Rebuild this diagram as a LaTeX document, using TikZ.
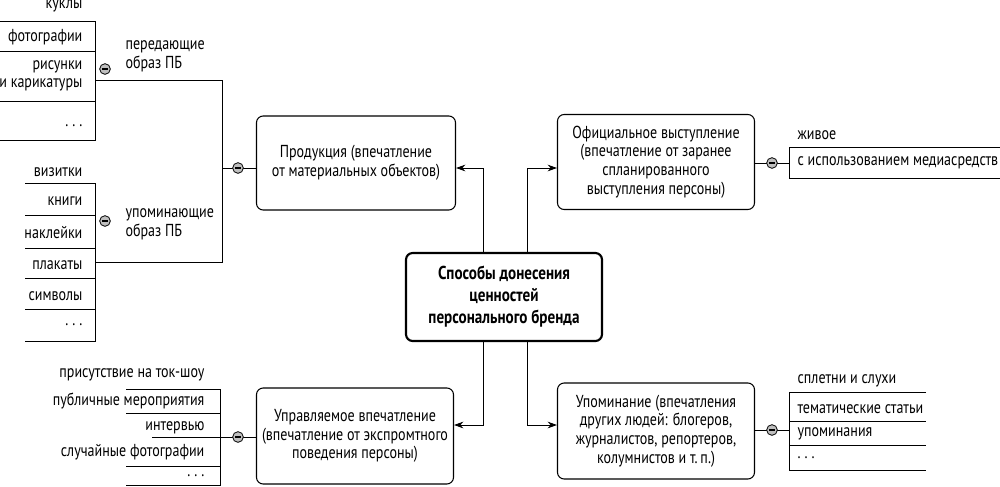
\documentclass[tikz,border=0pt]{standalone}
\usepackage{fontspec}
\setmainfont{PT Sans}[FakeStretch=0.81]
\usetikzlibrary{arrows.meta}
\newcommand{\dotsx}{.\hspace{3pt}.\hspace{3pt}.}
\begin{document}
\begin{tikzpicture}[x=0.75pt,y=-0.75pt,
  every node/.style={font=\fontsize{13}{14}\selectfont, inner sep=1pt},
  box/.style={draw, rounded corners=5pt, line width=0.8pt, align=center, inner sep=0pt},
  lbl/.style={anchor=east},
  rl/.style={anchor=west},
  ln/.style={line width=0.7pt},
  arr/.style={line width=0.7pt, -{Stealth[length=7pt,width=5pt]}},
  mk/.style={circle, draw, fill=gray!50, minimum size=8pt, inner sep=0pt, line width=0.6pt, path picture={\draw[line width=0.8pt] ([xshift=-2.2pt]path picture bounding box.center) -- ([xshift=2.2pt]path picture bounding box.center);}}]
\useasboundingbox (0,0) rectangle (1000,486);
% main boxes
\node[box, line width=1.6pt, minimum width=196*0.75pt, minimum height=88*0.75pt, font=\bfseries\fontsize{14}{16.5}\selectfont] (c) at (504,297) {Способы донесения\\ценностей\\персонального бренда};
\node[box, minimum width=199*0.75pt, minimum height=94*0.75pt] (p) at (356,163) {Продукция (впечатление\\от материальных объектов)};
\node[box, minimum width=197*0.75pt, minimum height=95*0.75pt] (o) at (656,162) {Официальное выступление\\(впечатление от заранее\\спланированного\\выступления персоны)};
\node[box, minimum width=197*0.75pt, minimum height=96*0.75pt] (u) at (355,436) {Управляемое впечатление\\(впечатление от экспромтного\\поведения персоны)};
\node[box, minimum width=197*0.75pt, minimum height=96*0.75pt] (m) at (656,431) {Упоминание (впечатления\\других людей: блогеров,\\журналистов, репортеров,\\колумнистов и т.\,п.)};
% arrows
\coordinate (c1) at (483,253); \coordinate (c2) at (527,253);
\coordinate (c3) at (483,341); \coordinate (c4) at (527,341);
\draw[arr] (c1) |- (p.east|-0,168);
\draw[arr] (c2) |- (o.west|-0,168);
\draw[arr] (c3) |- (u.east|-0,425);
\draw[arr] (c4) |- (m.west|-0,425);
% left top structure
\coordinate (pj) at (222,168);
\draw[ln] (p.west|-pj) -- (pj);
\node[mk] (pm) at (238,168) {};
\coordinate (pt) at (222,80); \coordinate (pb) at (222,262);
\draw[ln] (95,80) -- (pt) -- (pb) -- (95,262);
\node[mk] (m1) at (105,69) {};
\node[mk] (m2) at (105,221) {};
\node[anchor=west, align=left] (l1) at (124,56) {передающие\\образ ПБ};
\node[anchor=west, align=left] (l2) at (124,224) {упоминающие\\образ ПБ};
% top list
\draw[ln] (0,21) -- (95,21) -- (95,140) -- (0,140);
\draw[ln] (0,51) -- (95,51); \draw[ln] (0,101) -- (95,101);
\node[lbl] (t1) at (84,6) {куклы};
\node[lbl] (t2) at (84,37) {фотографии};
\node[lbl, align=right] (t3) at (84,76) {рисунки\\и карикатуры};
\node[lbl] (t4) at (84,126) {\dotsx};
% bottom list
\draw[ln] (25,183) -- (95,183) -- (95,341) -- (25,341);
\foreach \y in {215,248,278,309} \draw[ln] (25,\y) -- (95,\y);
\node[lbl] (b1) at (84,172) {визитки};
\node[lbl] (b2) at (84,201) {книги};
\node[lbl] (b3) at (84,233) {наклейки};
\node[lbl] (b4) at (84,265) {плакаты};
\node[lbl] (b5) at (84,296) {символы};
\node[lbl] (b6) at (84,325) {\dotsx};
% bottom-left list
\draw[ln] (126,389) -- (220,389) -- (220,486);
\draw[ln] (126,413) -- (220,413);
\draw[ln] (126,466) -- (220,466);
\draw[ln] (126,485) -- (220,485);
\draw[ln] (152,437) -- (u.west|-0,437);
\node[mk] (um) at (238,437) {};
\node[lbl] (d1) at (206,375) {присутствие на ток-шоу};
\node[lbl] (d2) at (206,401) {публичные мероприятия};
\node[lbl] (d3) at (206,428) {интервью};
\node[lbl] (d4) at (206,452) {случайные фотографии};
\node[lbl] (d5) at (206,476) {\dotsx};
% right top
\draw[ln] (o.east|-0,163) -- (789,163);
\node[mk] (om) at (772,163) {};
\draw[ln] (1000,147) -- (789,147) -- (789,178) -- (1000,178);
\node[rl] (r1) at (796,135) {живое};
\node[rl] (r2) at (796,163) {с использованием медиасредств};
% right bottom
\draw[ln] (m.east|-0,430) -- (789,430);
\node[mk] (mm) at (772,430) {};
\draw[ln] (926,392) -- (789,392) -- (789,470) -- (926,470);
\draw[ln] (789,421) -- (926,421); \draw[ln] (789,445) -- (926,445);
\node[rl] (s1) at (796,381) {сплетни и слухи};
\node[rl] (s2) at (796,409) {тематические статьи};
\node[rl] (s3) at (796,434) {упоминания};
\node[rl] (s4) at (796,458) {\dotsx};
\end{tikzpicture}
\end{document}
